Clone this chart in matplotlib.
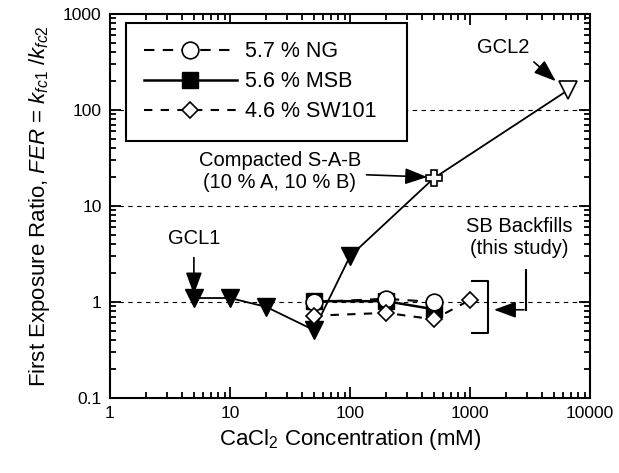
import matplotlib
matplotlib.use("Agg")
import matplotlib.pyplot as plt

plt.rcParams['font.family'] = ['Liberation Sans', 'DejaVu Sans']
plt.rcParams['mathtext.fontset'] = 'custom'
plt.rcParams['mathtext.rm'] = 'Liberation Sans'
plt.rcParams['mathtext.it'] = 'Liberation Sans:italic'

# GCL data (filled triangles), compacted S-A-B (cross), GCL2 (open triangle)
gcl1_x = [5, 10, 20, 50, 100]
gcl1_y = [1.1, 1.1, 0.89, 0.51, 3.0]
sab_x = [500]
sab_y = [19.5]
gcl2_x = [6600]
gcl2_y = [162]

# SB backfills from this study
ng_x = [50, 200, 500]
ng_y = [1.0, 1.08, 1.0]
msb_x = [50, 200, 500]
msb_y = [1.02, 1.02, 0.84]
sw_x = [50, 200, 500, 1000]
sw_y = [0.72, 0.77, 0.66, 1.05]

xticks = [1, 10, 100, 1000, 10000]
xtick_labels = ['1', '10', '100', '1000', '10000']
yticks = [0.1, 1, 10, 100, 1000]
ytick_labels = ['0.1', '1', '10', '100', '1000']

fig = plt.figure(figsize=(6.19, 4.73), dpi=100)
ax = fig.add_axes([110/619, 75/473, 480/619, 384/473])
ax.set_xscale('log')
ax.set_yscale('log')
ax.set_xlim(1, 10000)
ax.set_ylim(0.1, 1000)

for yv in [1, 10, 100]:
    ax.axhline(yv, color='black', lw=0.8, ls=(0, (4, 4)), zorder=1)

# GCL curve
gx = gcl1_x + sab_x + gcl2_x
gy = gcl1_y + sab_y + gcl2_y
ax.plot(gx, gy, color='black', lw=1.3, zorder=2)
ax.plot(gcl1_x, gcl1_y, ls='none', marker='v', ms=12.5, mfc='black', mec='black', zorder=4)
ax.plot(sab_x, sab_y, ls='none', marker='P', ms=11, mfc='white', mec='black', mew=1.2, zorder=4)
ax.plot(gcl2_x, gcl2_y, ls='none', marker='v', ms=13, mfc='white', mec='black', mew=1.2, zorder=4)

l1, = ax.plot(msb_x, msb_y, color='black', lw=1.8, marker='s', ms=11, mfc='black', mec='black', zorder=3)
l0, = ax.plot(ng_x, ng_y, color='black', lw=1.5, ls=(0, (5, 4)), marker='o', ms=12, mfc='white', mec='black', mew=1.2, zorder=4)
l2, = ax.plot(sw_x, sw_y, color='black', lw=1.5, ls=(0, (4, 4)), marker='D', ms=8, mfc='white', mec='black', mew=1.2, zorder=5)

leg = ax.legend([l0, l1, l2], ['5.7 % NG', '5.6 % MSB', '4.6 % SW101'],
                loc='upper left', bbox_to_anchor=(0.033, 0.6797, 0.585, 0.297), mode='expand',
                borderaxespad=0, fontsize=15.5, handlelength=4.3, handletextpad=0.4,
                labelspacing=0.42, borderpad=0.85, fancybox=False, framealpha=1, edgecolor='black')
leg.get_frame().set_linewidth(1.5)

arrow = dict(arrowstyle='-|>,head_length=0.9,head_width=0.33', color='black', lw=1.2, mutation_scale=15)
ax.text(5, 4.55, 'GCL1', fontsize=14.5, ha='center', va='center')
ax.annotate('', xy=(5, 1.12), xytext=(5, 3.1), arrowprops=arrow)
ax.text(1884, 443, 'GCL2', fontsize=14.5, ha='center', va='center')
ax.annotate('', xy=(5400, 191), xytext=(3270, 331), arrowprops=arrow)
ax.annotate('Compacted S-A-B\n(10 % A, 10 % B)', xy=(464, 20), xytext=(26, 22.8),
            fontsize=14.5, ha='center', va='center', linespacing=1.2, arrowprops=arrow)
ax.text(2550, 4.7, 'SB Backfills\n(this study)', fontsize=14.5, ha='center', va='center', linespacing=1.2)

# bracket and arrow for SB backfills
ax.plot([1040, 1400, 1400, 1040], [1.67, 1.67, 0.48, 0.48], color='black', lw=1.5, zorder=3)
ax.plot([2950, 2950], [2.15, 0.83], color='black', lw=1.5, zorder=3)
ax.annotate('', xy=(1500, 0.83), xytext=(2970, 0.83), arrowprops=arrow)

ax.set_xticks(xticks)
ax.set_xticklabels(xtick_labels)
ax.set_yticks(yticks)
ax.set_yticklabels(ytick_labels)
ax.tick_params(which='both', direction='in', top=True, right=True, labelsize=12.5, width=1.3)
ax.tick_params(which='major', length=8, pad=6)
ax.tick_params(which='minor', length=4.5)
for s in ax.spines.values():
    s.set_linewidth(1.5)

ax.set_xlabel('CaCl$_2$ Concentration (mM)', fontsize=16, labelpad=4)
ax.set_ylabel('First Exposure Ratio, $FER$ = $k_{fc1}$ /$k_{fc2}$', fontsize=16, labelpad=8)

fig.savefig('out.png', dpi=100)
